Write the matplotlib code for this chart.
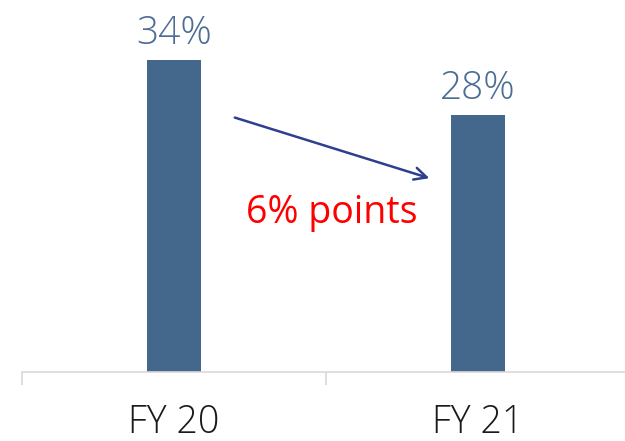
import matplotlib.pyplot as plt

categories = ['FY 20', 'FY 21']
values = [34, 28]
labels = ['34%', '28%']
change_text = '6% points'

plt.rcParams['font.family'] = ['Open Sans', 'DejaVu Sans']

fig = plt.figure(figsize=(6.25, 4.41), dpi=100)
ax = fig.add_axes([22 / 625, 1 - 372 / 441, 608 / 625, 372 / 441])

x = range(len(categories))
ax.bar(x, values, width=0.18, color='#44678c')
ax.set_xlim(-0.5, 1.5)
ax.set_ylim(0, 40.5)

for xi, v, lab in zip(x, values, labels):
    ax.annotate(lab, (xi, v), xytext=(0, 5), textcoords='offset points',
                ha='center', va='bottom', fontsize=28, color='#4b6d93',
                fontweight='light')

# arrow showing the drop
ax.annotate('', xy=(0.84, values[1] - 6.9), xytext=(0.2, values[0] - 6.3),
            arrowprops=dict(arrowstyle='->', color='#2e3f8f', lw=1.8,
                            mutation_scale=22, shrinkA=0, shrinkB=0))
ax.text(0.52, 17.3, change_text, color='#ff0000', fontsize=27,
        ha='center', va='center')

# axis styling
for s in ['left', 'right', 'top']:
    ax.spines[s].set_visible(False)
ax.spines['bottom'].set_color('#d9d9d9')
ax.spines['bottom'].set_linewidth(1.2)
ax.set_yticks([])
ax.set_xticks(list(x))
ax.set_xticklabels(categories, fontsize=27, color='#1a1a1a', fontweight='light')
ax.tick_params(axis='x', which='major', length=0, pad=23)
ax.set_xticks([-0.5, 0.5, 1.5], minor=True)
ax.tick_params(axis='x', which='minor', length=9, color='#d9d9d9', width=1.2)

fig.savefig('out.png', dpi=100)
